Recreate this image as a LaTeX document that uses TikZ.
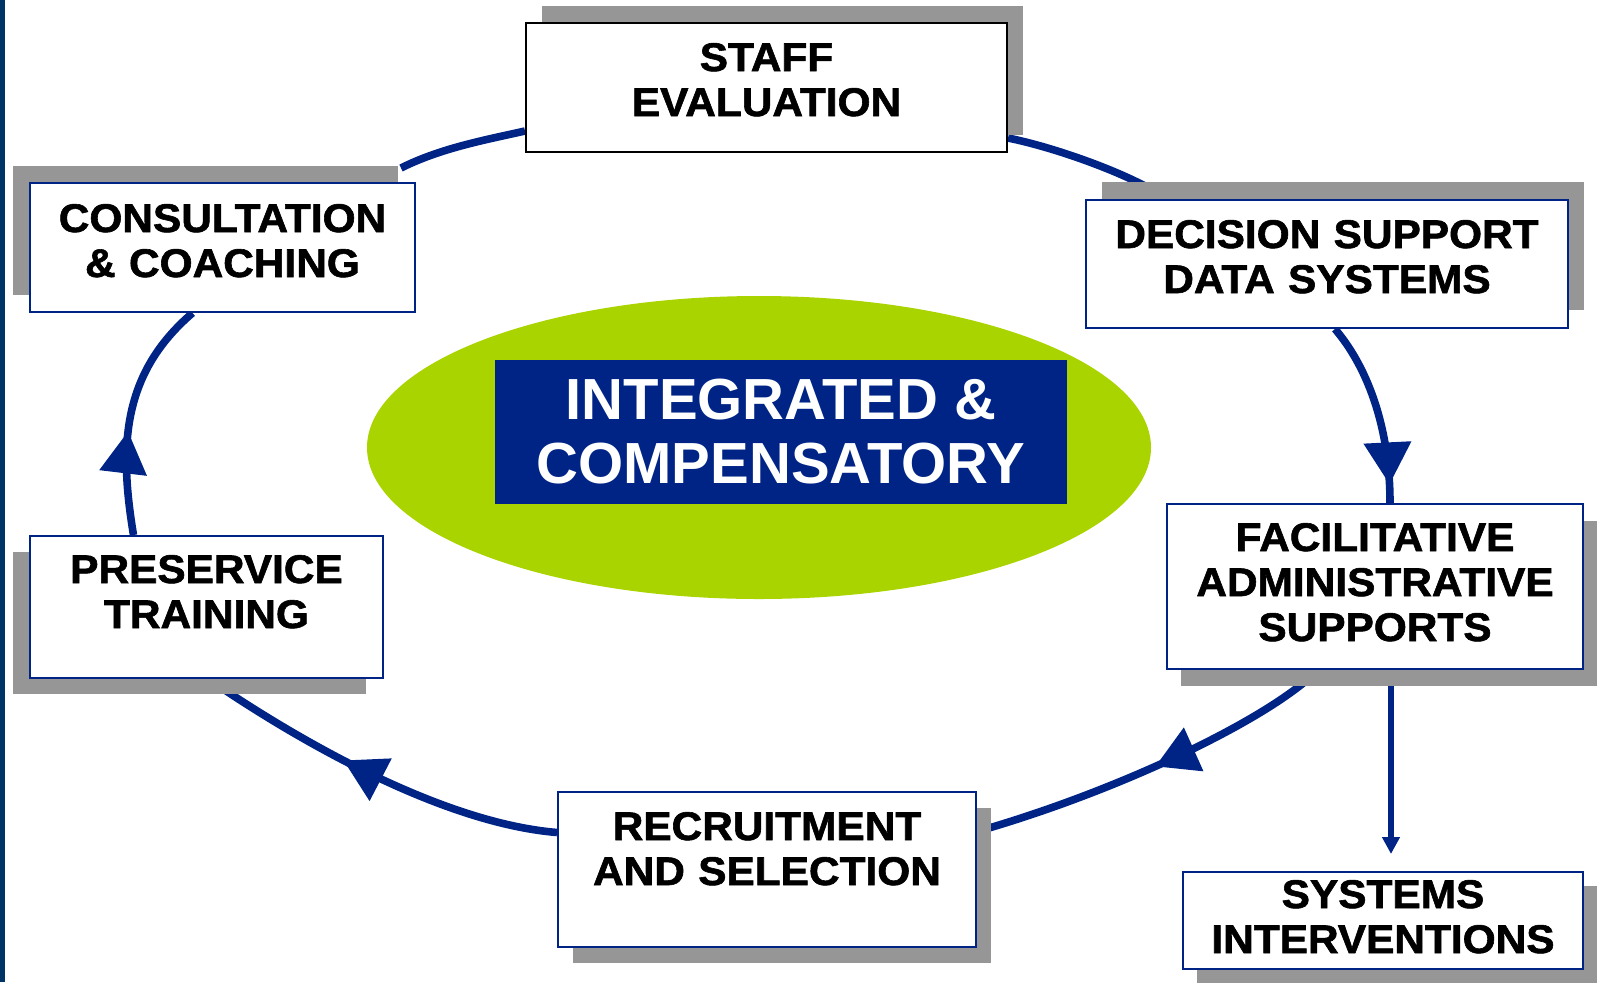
\documentclass[tikz,border=0pt]{standalone}
\usepackage{fontspec}
\setmainfont{Liberation Sans}
\newfontfamily\boxfont{Liberation Sans}[BoldFeatures={FakeBold=1.5,FakeStretch=1.06}]
\usetikzlibrary{shapes.geometric,shadows,arrows.meta,decorations.markings,backgrounds}

\definecolor{ringblue}{RGB}{0,36,134}
\definecolor{shadowgray}{RGB}{150,150,150}
\definecolor{ringgreen}{RGB}{170,212,0}
\definecolor{edgeblue}{RGB}{0,51,102}

\begin{document}
\begin{tikzpicture}[x=0.5pt, y=-0.5pt,
	box/.style={draw=ringblue, line width=1pt, fill=white, inner sep=0pt, align=center,
		text height=15pt, font=\fontsize{20}{22.5}\selectfont\boxfont\bfseries},
	boxshadow/.style 2 args={general shadow={fill=shadowgray, shadow xshift=#1, shadow yshift=#2}},
	ring/.style={draw=ringblue, line width=3.8pt},
	mid arrow/.style={postaction={decorate}, decoration={markings,
		mark=at position #1 with {\arrow{Triangle[length=21pt,width=23pt]}}}}]
	\useasboundingbox (0,0) rectangle (1602,982);
	\fill[edgeblue] (0,0) rectangle (5,982);

	\node[ellipse, fill=ringgreen, minimum width=392pt, minimum height=151.5pt] (hub) at (759, 447.5) {};
	\node[fill=ringblue, text=white, minimum width=286pt, minimum height=72pt, align=center,
		font=\fontsize{29}{32}\selectfont\bfseries] (core) at (781, 432) {INTEGRATED \&\\COMPENSATORY};

	\node[box, draw=black, boxshadow={8pt}{8.5pt}, minimum width=240.5pt, minimum height=64.5pt,
		text width=236pt, text depth=31.5pt] (staff) at (766.5, 87.5) {STAFF\\EVALUATION};
	\node[box, boxshadow={8pt}{9pt}, minimum width=241pt, minimum height=64pt,
		text width=237pt, text depth=31pt] (data) at (1327, 264) {DECISION SUPPORT\\DATA SYSTEMS};
	\node[box, boxshadow={7pt}{-8.5pt}, minimum width=208pt, minimum height=82.5pt,
		text width=204pt, text depth=50.5pt] (admin) at (1375, 586.5) {FACILITATIVE\\ADMINISTRATIVE\\SUPPORTS};
	\node[box, boxshadow={7pt}{-7pt}, minimum width=200pt, minimum height=48.5pt,
		text width=196pt, text depth=27.5pt] (sys) at (1383, 920.5) {SYSTEMS\\INTERVENTIONS};
	\node[box, boxshadow={7.5pt}{-8pt}, minimum width=209pt, minimum height=77.5pt,
		text width=205pt, text depth=44.5pt] (recruit) at (767, 869.5) {RECRUITMENT\\AND SELECTION};
	\node[box, boxshadow={-8.5pt}{-8pt}, minimum width=176.5pt, minimum height=71pt,
		text width=172pt, text depth=39pt] (train) at (206.5, 607) {PRESERVICE\\TRAINING};
	\node[box, boxshadow={-8.5pt}{8.5pt}, minimum width=192.5pt, minimum height=64.5pt,
		text width=188pt, text depth=30.5pt] (coach) at (222.5, 247.5) {CONSULTATION\\\& COACHING};

	\begin{scope}[on background layer]
	\draw[ring] ([shift={(-15,-14)}]coach.north east) .. controls +(40,-20) and +(-40,9) .. ([shift={(0,-22)}]staff.south west);
	\draw[ring] ([shift={(0,-15)}]staff.south east) .. controls +(45,9) and +(-35,-22) .. ([shift={(74,-5)}]data.north west);
	\draw[ring, mid arrow=0.9] ([shift={(8,0)}]data.south) .. controls +(30,35) and +(0,-80) .. ([shift={(15,0)}]admin.north);
	\draw[ring, mid arrow=0.5] ([shift={(-57,0)}]admin.south) .. controls +(-50,50) and +(140,-40) .. ([shift={(0,-38)}]recruit.east);
	\draw[ring, mid arrow=0.59] ([shift={(0,-37)}]recruit.west) .. controls +(-120,-10) and +(80,55) .. ([shift={(2,0)}]train.south);
	\draw[ring, mid arrow=0.43] ([shift={(-73,0)}]train.north) .. controls +(-15,-90) and +(-70,60) .. ([shift={(-30,0)}]coach.south);
	\draw[ringblue, line width=2.6pt, -{Triangle[length=8.5pt,width=8.5pt]}, shorten >=8.5pt]
		([shift={(16,0)}]admin.south) -- ([shift={(16,0)}]admin.south |- sys.north);
	\end{scope}
\end{tikzpicture}
\end{document}
